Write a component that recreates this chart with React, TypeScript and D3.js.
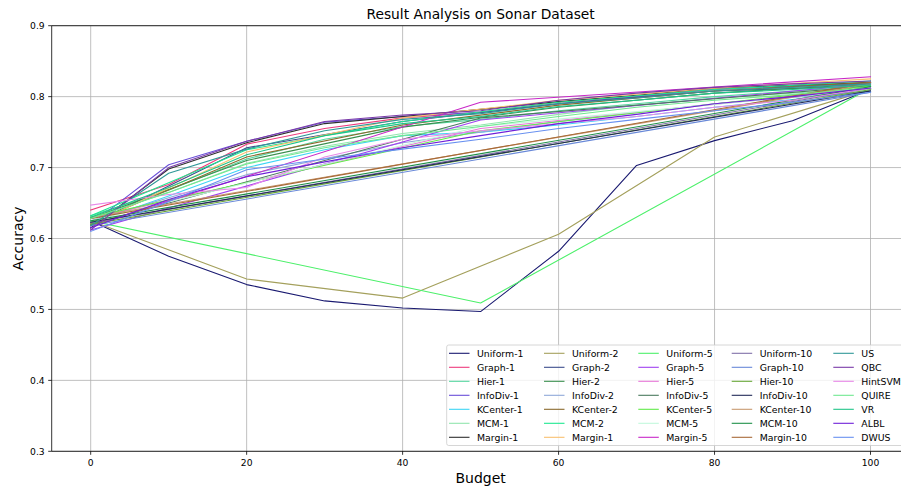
import React from "react";
import * as d3 from "d3";

// ---------- data ----------
const budgetsStep10 = [0, 10, 20, 30, 40, 50, 60, 70, 80, 90, 100];
const budgetsStep20 = [0, 20, 40, 60, 80, 100];
const budgetsStep50 = [0, 50, 100];
const budgetsStep100 = [0, 100];

const xTicks = [0, 20, 40, 60, 80, 100];
const yTicks = [0.3, 0.4, 0.5, 0.6, 0.7, 0.8, 0.9];

// column 1 (batch 1)
const names1 = ["Uniform-1", "Graph-1", "Hier-1", "InfoDiv-1", "KCenter-1", "MCM-1", "Margin-1"];
const colors1 = ["#191970", "#ee3a7c", "#55d6a0", "#6a4fd8", "#3dd5f5", "#92e6ae", "#2f2f2f"];
const values1 = [
  [0.625, 0.575, 0.535, 0.512, 0.502, 0.497, 0.582, 0.703, 0.738, 0.766, 0.81],
  [0.64, 0.676, 0.733, 0.755, 0.77, 0.778, 0.792, 0.8, 0.81, 0.815, 0.82],
  [0.632, 0.668, 0.712, 0.74, 0.758, 0.768, 0.78, 0.79, 0.8, 0.808, 0.815],
  [0.62, 0.704, 0.737, 0.764, 0.772, 0.778, 0.79, 0.8, 0.81, 0.815, 0.818],
  [0.622, 0.66, 0.7, 0.725, 0.745, 0.75, 0.76, 0.772, 0.785, 0.796, 0.808],
  [0.63, 0.665, 0.706, 0.73, 0.748, 0.76, 0.775, 0.788, 0.798, 0.805, 0.812],
  [0.615, 0.698, 0.735, 0.762, 0.772, 0.782, 0.793, 0.802, 0.812, 0.816, 0.82],
];

// column 2 (batch 2)
const names2 = ["Uniform-2", "Graph-2", "Hier-2", "InfoDiv-2", "KCenter-2", "MCM-2", "Margin-1"];
const colors2 = ["#a4a05c", "#3c4c8c", "#3a8f4e", "#8fa8d8", "#8b6a2e", "#1ee890", "#f8c070"];
const values2 = [
  [0.625, 0.543, 0.516, 0.606, 0.743, 0.81],
  [0.62, 0.728, 0.765, 0.79, 0.808, 0.815],
  [0.628, 0.71, 0.757, 0.785, 0.805, 0.818],
  [0.625, 0.69, 0.735, 0.765, 0.79, 0.808],
  [0.622, 0.715, 0.76, 0.788, 0.808, 0.82],
  [0.632, 0.725, 0.765, 0.792, 0.81, 0.822],
  [0.62, 0.722, 0.77, 0.795, 0.812, 0.825],
];

// column 3 (batch 5)
const names5 = ["Uniform-5", "Graph-5", "Hier-5", "InfoDiv-5", "KCenter-5", "MCM-5", "Margin-5"];
const colors5 = ["#4cf06a", "#a040f0", "#e878d8", "#4a7a5e", "#60ea48", "#c2f8dc", "#c828c8"];
const values5 = [
  [0.625, 0.509, 0.812],
  [0.612, 0.767, 0.818],
  [0.628, 0.755, 0.812],
  [0.62, 0.77, 0.815],
  [0.63, 0.752, 0.815],
  [0.625, 0.758, 0.81],
  [0.618, 0.792, 0.828],
];

// column 4 (batch 10)
const names10 = ["Uniform-10", "Graph-10", "Hier-10", "InfoDiv-10", "KCenter-10", "MCM-10", "Margin-10"];
const colors10 = ["#8070a8", "#6888d8", "#68a838", "#222a58", "#c89a70", "#1f9048", "#a86a38"];
const values10 = [
  [0.622, 0.812],
  [0.618, 0.806],
  [0.62, 0.81],
  [0.623, 0.808],
  [0.63, 0.818],
  [0.625, 0.814],
  [0.628, 0.82],
];

// column 5 (baselines)
const namesBase = ["US", "QBC", "HintSVM", "QUIRE", "VR", "ALBL", "DWUS"];
const colorsBase = ["#309898", "#7a3aa8", "#e888e8", "#70e890", "#20c488", "#7020d8", "#6890f0"];
const valuesBase = [
  [0.618, 0.692, 0.726, 0.752, 0.768, 0.776, 0.79, 0.798, 0.808, 0.813, 0.818],
  [0.612, 0.7, 0.737, 0.765, 0.774, 0.78, 0.795, 0.805, 0.813, 0.818, 0.822],
  [0.647, 0.662, 0.672, 0.715, 0.74, 0.752, 0.762, 0.772, 0.785, 0.795, 0.812],
  [0.628, 0.665, 0.705, 0.728, 0.745, 0.758, 0.772, 0.785, 0.795, 0.803, 0.812],
  [0.63, 0.672, 0.718, 0.745, 0.762, 0.772, 0.786, 0.795, 0.805, 0.81, 0.816],
  [0.615, 0.655, 0.687, 0.708, 0.728, 0.745, 0.762, 0.775, 0.79, 0.8, 0.812],
  [0.61, 0.652, 0.697, 0.712, 0.726, 0.74, 0.755, 0.768, 0.78, 0.792, 0.806],
];

// ---------- layout ----------
const W = 901;
const H = 489;
const plotLeft = 51.7;
const plotRight = 909.5;
const plotTop = 25.7;
const plotBottom = 451.3;
const FONT = "DejaVu Sans, sans-serif";

const legendColX = [449, 544, 638.3, 731.7, 833.3];
const legendRow0 = 353.3;
const legendRowStep = 14;

type Series = { name: string; color: string; x: number[]; y: number[] };

const groups = [
  { names: names1, colors: colors1, values: values1, x: budgetsStep10 },
  { names: names2, colors: colors2, values: values2, x: budgetsStep20 },
  { names: names5, colors: colors5, values: values5, x: budgetsStep50 },
  { names: names10, colors: colors10, values: values10, x: budgetsStep100 },
  { names: namesBase, colors: colorsBase, values: valuesBase, x: budgetsStep10 },
];

const columns: Series[][] = groups.map((g) =>
  g.names.map((n, i) => ({ name: n, color: g.colors[i], x: g.x, y: g.values[i] }))
);
const allSeries: Series[] = columns.flat();

export default function App() {
  const xs = d3.scaleLinear().domain([-5, 105]).range([plotLeft, plotRight]);
  const ys = d3.scaleLinear().domain([0.3, 0.9]).range([plotBottom, plotTop]);
  const line = (s: Series) =>
    d3
      .line<number>()
      .x((_, i) => xs(s.x[i]))
      .y((v) => ys(v))(s.y) || "";

  return (
    <svg
      width={W}
      height={H}
      style={{ position: "absolute", left: 0, top: 0, background: "#fff" }}
      fontFamily={FONT}
    >
      <defs>
        <clipPath id="plotClip">
          <rect x={plotLeft} y={plotTop} width={plotRight - plotLeft} height={plotBottom - plotTop} />
        </clipPath>
      </defs>
      <rect x={0} y={0} width={W} height={H} fill="#fff" />
      {/* grid */}
      <g stroke="#b0b0b0" strokeWidth={0.8}>
        {xTicks.map((t) => (
          <line key={"gx" + t} x1={xs(t)} x2={xs(t)} y1={plotTop} y2={plotBottom} />
        ))}
        {yTicks.map((t) => (
          <line key={"gy" + t} x1={plotLeft} x2={plotRight} y1={ys(t)} y2={ys(t)} />
        ))}
      </g>
      {/* lines */}
      <g clipPath="url(#plotClip)" fill="none" strokeWidth={1.1} strokeLinejoin="round" strokeLinecap="square">
        {allSeries.map((s, i) => (
          <path key={"s" + i} d={line(s)} stroke={s.color} />
        ))}
      </g>
      {/* spines */}
      <g stroke="#000" strokeWidth={0.8} fill="none">
        <line x1={plotLeft} x2={plotLeft} y1={plotTop} y2={plotBottom} />
        <line x1={plotLeft} x2={plotRight} y1={plotBottom} y2={plotBottom} />
        <line x1={plotLeft} x2={plotRight} y1={plotTop} y2={plotTop} />
        <line x1={plotRight} x2={plotRight} y1={plotTop} y2={plotBottom} />
      </g>
      {/* x ticks */}
      <g fontSize={9.2} fill="#000">
        {xTicks.map((t) => (
          <g key={"xt" + t}>
            <line x1={xs(t)} x2={xs(t)} y1={plotBottom} y2={plotBottom + 3.5} stroke="#000" strokeWidth={0.8} />
            <text x={xs(t)} y={plotBottom + 14.7} textAnchor="middle">
              {t}
            </text>
          </g>
        ))}
        {yTicks.map((t) => (
          <g key={"yt" + t}>
            <line x1={plotLeft - 3.5} x2={plotLeft} y1={ys(t)} y2={ys(t)} stroke="#000" strokeWidth={0.8} />
            <text x={plotLeft - 7} y={ys(t) + 3.3} textAnchor="end">
              {d3.format(".1f")(t)}
            </text>
          </g>
        ))}
      </g>
      {/* title and labels */}
      <text x={(plotLeft + plotRight) / 2} y={19.3} textAnchor="middle" fontSize={13.8} fill="#000">
        Result Analysis on Sonar Dataset
      </text>
      <text x={(plotLeft + plotRight) / 2} y={482.5} textAnchor="middle" fontSize={14} fill="#000">
        Budget
      </text>
      <text
        transform={`translate(23,${(plotTop + plotBottom) / 2}) rotate(-90)`}
        textAnchor="middle"
        fontSize={14}
        fill="#000"
      >
        Accuracy
      </text>
      {/* legend */}
      <g>
        <rect
          x={446.7}
          y={345}
          width={904.5 - 446.7}
          height={100.5}
          rx={2}
          fill="#fff"
          fillOpacity={0.8}
          stroke="#cccccc"
          strokeWidth={0.8}
        />
        {columns.map((col, ci) =>
          col.map((s, ri) => {
            const yy = legendRow0 + ri * legendRowStep;
            const x0 = legendColX[ci];
            return (
              <g key={"lg" + ci + "-" + ri}>
                <line x1={x0} x2={x0 + 20.5} y1={yy} y2={yy} stroke={s.color} strokeWidth={1.1} />
                <text x={x0 + 28} y={yy + 3.4} fontSize={9.35} fill="#000">
                  {s.name}
                </text>
              </g>
            );
          })
        )}
      </g>
    </svg>
  );
}
